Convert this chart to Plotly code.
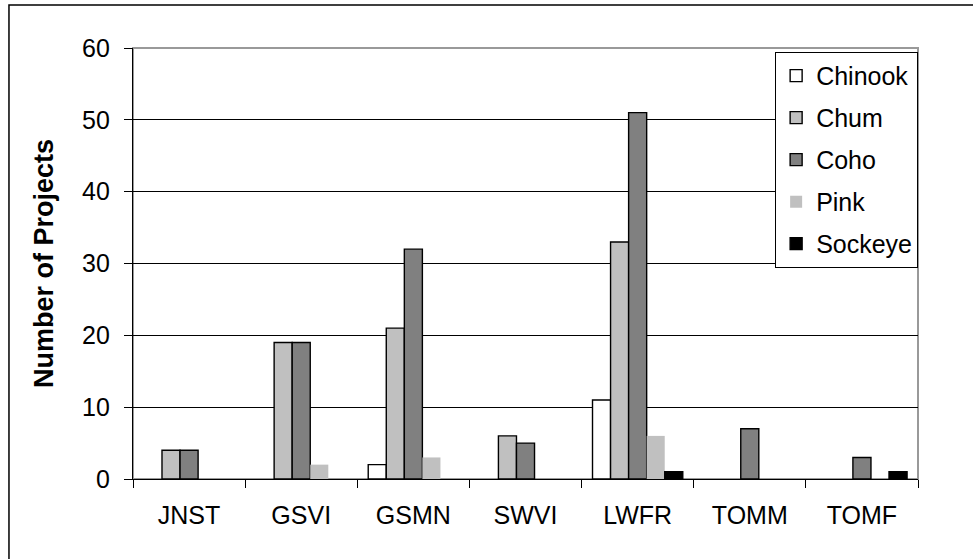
import plotly.graph_objects as go

regions = ['JNST', 'GSVI', 'GSMN', 'SWVI', 'LWFR', 'TOMM', 'TOMF']
chinook = [0, 0, 2, 0, 11, 0, 0]
chum = [4, 19, 21, 6, 33, 0, 0]
coho = [4, 19, 32, 5, 51, 7, 3]
pink = [0, 2, 3, 0, 6, 0, 0]
sockeye = [0, 0, 0, 0, 1, 0, 1]

series = [
    ('Chinook', chinook, '#FFFFFF', 'black', 1.4),
    ('Chum', chum, '#C0C0C0', 'black', 1.4),
    ('Coho', coho, '#808080', 'black', 1.4),
    ('Pink', pink, '#C0C0C0', '#C0C0C0', 0),
    ('Sockeye', sockeye, '#000000', 'black', 1.4),
]

fig = go.Figure()
for name, vals, fill, edge, w in series:
    # empty categories get no bar at all (avoids flat outlines on the axis)
    fig.add_trace(
        go.Bar(x=regions,
               y=[v if v else None for v in vals],
               name=name,
               legendgroup=name,
               marker=dict(color=fill,
                           line=dict(color=edge, width=w))))

# outer chart border
fig.add_shape(type='rect', xref='paper', yref='paper',
              x0=-0.158, x1=1.075, y0=-0.19, y1=1.1,
              line=dict(color='black', width=1.5), layer='below')
# gray plot area frame
fig.add_shape(type='rect', xref='paper', yref='paper',
              x0=0, x1=1, y0=0, y1=1,
              line=dict(color='#999999', width=2), layer='below')

fig.update_layout(
    width=973, height=559,
    margin=dict(l=133, r=55, t=48, b=80),
    paper_bgcolor='white',
    plot_bgcolor='white',
    barmode='group',
    bargap=0.195,
    bargroupgap=0,
    font=dict(family='Liberation Sans, Arial', size=25, color='black'),
    legend=dict(x=0.818, y=0.991, xanchor='left', yanchor='top',
                bordercolor='black', borderwidth=1, bgcolor='white',
                font=dict(size=25), tracegroupgap=6.5,
                itemwidth=30),
    showlegend=True,
)
fig.update_xaxes(
    showline=True, linecolor='black', linewidth=1.2,
    ticks='outside', ticklen=8, tickcolor='black',
    tickson='boundaries', showgrid=False,
    ticklabelstandoff=14,
)
fig.update_yaxes(
    range=[0, 60], dtick=10,
    showline=True, linecolor='black', linewidth=1.2,
    ticks='outside', ticklen=8, tickcolor='black',
    showgrid=True, gridcolor='black', gridwidth=1,
    zeroline=False, ticklabelstandoff=9,
    title=dict(text='<b>Number of Projects</b>', font=dict(size=27), standoff=20),
)

# drop the default 8px body margin so the figure sits at the page origin
fig.write_html("out.html", config={'displayModeBar': False},
               post_script="document.body.style.margin='0';")
